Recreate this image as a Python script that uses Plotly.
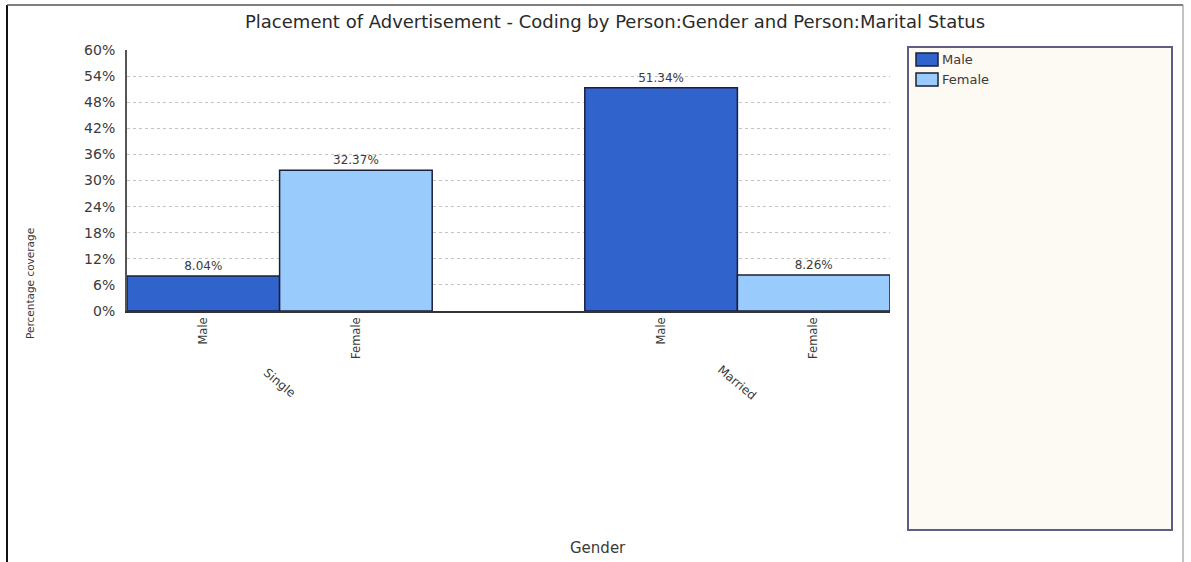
import plotly.graph_objects as go

# Coverage (%) by marital status and gender
statuses = ["Single", "Married"]
genders = ["Male", "Female"]
male_pct = [8.04, 51.34]
female_pct = [32.37, 8.26]
y_ticks = [0, 6, 12, 18, 24, 30, 36, 42, 48, 54, 60]

MALE_COLOR = "#3064cc"
FEMALE_COLOR = "#99ccfc"
EDGE = "#1b1f3a"

W, H = 1191, 562
L, R, T, B = 127, 890, 50, 311  # plot area in pixels


def px(x):
    return (x - L) / (R - L)


def py(y):
    return (B - y) / (B - T)


FONT = "DejaVu Sans"
TXT = "#3a3a3a"

# each status gets two adjacent bars, groups separated by one bar width
group_start = [i * 3 for i in range(len(statuses))]
male_x = [g for g in group_start]
female_x = [g + 1 for g in group_start]

fig = go.Figure()
for name, xs, vals, color in [("Male", male_x, male_pct, MALE_COLOR),
                              ("Female", female_x, female_pct, FEMALE_COLOR)]:
    fig.add_trace(go.Bar(
        x=xs, y=vals, width=1, name=name,
        marker=dict(color=color, line=dict(color=EDGE, width=1.5)),
        text=[f"{v:.2f}%" for v in vals], textposition="outside",
        textfont=dict(size=12, color=TXT, family=FONT), cliponaxis=False,
        showlegend=False,
    ))

tickvals = []
ticktext = []
for m, f in zip(male_x, female_x):
    tickvals += [m, f]
    ticktext += genders

annotations = []
for g, s in zip(group_start, statuses):
    annotations.append(dict(
        x=g + 0.5, xref="x", y=py(383), yref="paper", text=s,
        xanchor="center", yanchor="middle",
        showarrow=False, textangle=40, font=dict(size=12, color=TXT, family=FONT),
    ))
annotations.append(dict(
    x=px(30), xref="paper", y=py(283), yref="paper", text="Percentage coverage",
    xanchor="center", yanchor="middle",
    showarrow=False, textangle=-90, font=dict(size=10.5, color=TXT, family=FONT),
))
annotations.append(dict(
    x=px(598), xref="paper", y=py(548), yref="paper", text="Gender",
    xanchor="center", yanchor="middle",
    showarrow=False, font=dict(size=15, color=TXT, family=FONT),
))

shapes = [
    # legend panel
    dict(type="rect", xref="paper", yref="paper",
         x0=px(908), x1=px(1172), y0=py(530), y1=py(47),
         fillcolor="#fdf9f3", line=dict(color="#5e5e84", width=2), layer="below"),
    # outer frame
    dict(type="line", xref="paper", yref="paper", x0=px(7), x1=px(7), y0=py(5), y1=py(562),
         line=dict(color="#111111", width=2)),
    dict(type="line", xref="paper", yref="paper", x0=px(7), x1=px(1183), y0=py(5), y1=py(5),
         line=dict(color="#555555", width=1.5)),
    dict(type="line", xref="paper", yref="paper", x0=px(1183), x1=px(1183), y0=py(5), y1=py(562),
         line=dict(color="#888888", width=1)),
]

# legend entries: swatch + label inside the panel
for i, (name, color) in enumerate([("Male", MALE_COLOR), ("Female", FEMALE_COLOR)]):
    top = 53 + i * 20
    shapes.append(dict(type="rect", xref="paper", yref="paper",
                       x0=px(916), x1=px(938), y0=py(top + 13), y1=py(top),
                       fillcolor=color, line=dict(color=EDGE, width=1.5)))
    annotations.append(dict(
        x=px(940), xref="paper", y=py(top + 6.5), yref="paper", text=name,
        xanchor="left", yanchor="middle", showarrow=False,
        font=dict(size=13, color=TXT, family=FONT),
    ))

fig.update_layout(
    width=W, height=H,
    margin=dict(l=L, r=W - R, t=T, b=H - B, pad=0),
    paper_bgcolor="white", plot_bgcolor="white",
    font=dict(family=FONT, color=TXT),
    title=dict(text="Placement of Advertisement - Coding by Person:Gender and Person:Marital Status",
               x=615 / W, xanchor="center", y=1 - 22 / H, yanchor="middle",
               font=dict(size=18, color="#2a2a2a", family=FONT)),
    barmode="overlay",
    showlegend=False,
    xaxis=dict(range=[-0.5, 4.5], tickvals=tickvals, ticktext=ticktext, tickangle=-90,
               showgrid=False, zeroline=False, showline=True, linecolor="#333333", linewidth=1.5,
               ticks="", tickfont=dict(size=11.5, color=TXT, family=FONT), fixedrange=True),
    yaxis=dict(range=[0, 60], tickvals=y_ticks, ticktext=[f"{v}%" for v in y_ticks],
               showgrid=True, gridcolor="#c4c4c4", griddash="dot", gridwidth=1,
               zeroline=False, showline=True, linecolor="#555555", linewidth=2,
               ticks="", ticklabelstandoff=7,
               tickfont=dict(size=14, color=TXT, family=FONT), fixedrange=True),
    annotations=annotations,
    shapes=shapes,
)

fig.write_html("out.html")
